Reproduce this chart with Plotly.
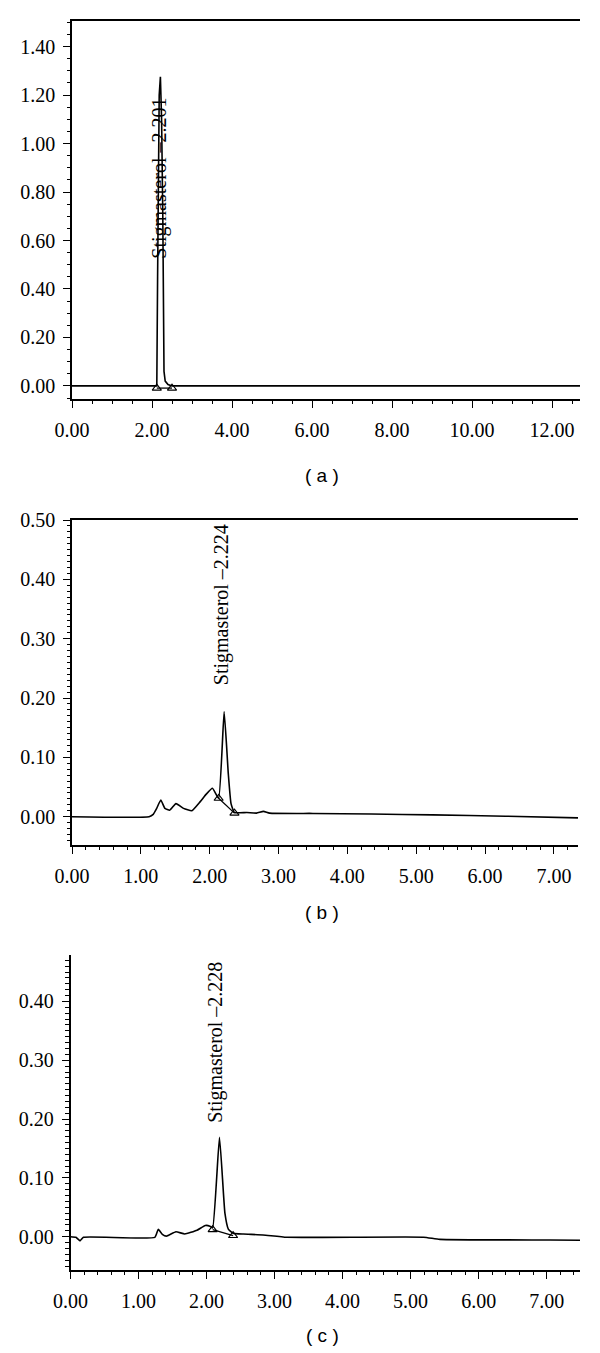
import plotly.graph_objects as go

# ---------------- data ----------------
# Panel (a)
a_time = [0, 2.12, 2.14, 2.16, 2.18, 2.21, 2.24, 2.27, 2.285, 2.30, 2.33, 2.40, 2.50, 12.7]
a_signal = [0, 0, 0.45, 0.95, 1.20, 1.276, 1.10, 0.70, 0.30, 0.06, 0.02, 0.006, 0.0, 0.0]
a_marks_t = [2.12, 2.50]
a_marks_v = [-0.009, -0.009]
a_label = "Stigmasterol –2.201"
a_label_pos = (2.18, 0.856)

# Panel (b)
b_time = [0, 1.12, 1.18, 1.23, 1.29, 1.35, 1.42, 1.51, 1.62, 1.74, 1.86, 1.95, 2.04,
          2.13, 2.21, 2.27, 2.31, 2.36, 2.54, 2.68, 2.78, 2.87, 3.50, 4.35, 5.24, 6.30, 7.35]
b_signal = [0, 0, 0.004, 0.014, 0.028, 0.014, 0.011, 0.022, 0.014, 0.010, 0.025, 0.038, 0.048,
            0.031, 0.177, 0.073, 0.022, 0.007, 0.007, 0.006, 0.009, 0.006, 0.0055, 0.0045, 0.003, 0.0008, -0.002]
b_marks_t = [2.13, 2.36]
b_marks_v = [0.031, 0.006]
b_label = "Stigmasterol –2.224"
b_label_pos = (2.17, 0.357)

# Panel (c)
c_time = [0, 0.08, 0.14, 0.19, 1.24, 1.29, 1.35, 1.41, 1.55, 1.68, 1.86, 1.98, 2.05,
          2.09, 2.19, 2.27, 2.32, 2.39, 2.54, 2.83, 3.18, 5.19, 5.43, 7.05, 7.49]
c_signal = [0, -0.001, -0.007, -0.001, -0.001, 0.0125, 0.004, 0.001, 0.0085, 0.0046, 0.011, 0.019, 0.018,
            0.015, 0.169, 0.040, 0.013, 0.006, 0.0045, 0.003, -0.001, -0.0008, -0.0045, -0.0056, -0.006]
c_marks_t = [2.09, 2.39]
c_marks_v = [0.012, 0.002]
c_label = "Stigmasterol –2.228"
c_label_pos = (2.12, 0.331)

captions = ["( a )", "( b )", "( c )"]

# ---------------- layout helpers ----------------
OFF = 8  # default page margin of the html body
W, H = 600 - OFF, 1353 - OFF


def px_x(p):
    return (p - OFF) / W


def px_y(p):
    return 1 - (p - OFF) / H


SERIF = "Liberation Serif"
TICKFONT = dict(family=SERIF, size=20, color="black")
LINE = dict(color="black", width=1.6, shape="spline", smoothing=0.4)

fig = go.Figure()

panels = [
    dict(t=a_time, v=a_signal, mt=a_marks_t, mv=a_marks_v, label=a_label, lpos=a_label_pos,
         xd=(72, 580), yd=(399, 20.7), xr=(0, 12.7), yr=(-0.054, 1.507),
         xdt=2, xmin=0.5, ydt=0.2, ymin=0.05, top=True, cap_y=475.7),
    dict(t=b_time, v=b_signal, mt=b_marks_t, mv=b_marks_v, label=b_label, lpos=b_label_pos,
         xd=(72, 578), yd=(845, 520), xr=(0, 7.35), yr=(-0.0477, 0.5),
         xdt=1, xmin=0.2, ydt=0.1, ymin=0.01, top=True, cap_y=912),
    dict(t=c_time, v=c_signal, mt=c_marks_t, mv=c_marks_v, label=c_label, lpos=c_label_pos,
         xd=(70.5, 580), yd=(1270, 955), xr=(0, 7.49), yr=(-0.0566, 0.479),
         xdt=1, xmin=0.2, ydt=0.1, ymin=0.01, top=False, cap_y=1335),
]

annotations = []
for i, p in enumerate(panels):
    n = "" if i == 0 else str(i + 1)
    xa, ya = "x" + n, "y" + n
    line = LINE if i > 0 else dict(color="black", width=1.6)
    fig.add_trace(go.Scatter(x=p["t"], y=p["v"], mode="lines", line=line,
                             xaxis=xa, yaxis=ya, showlegend=False, hoverinfo="skip"))
    # integration baseline between the two markers
    fig.add_trace(go.Scatter(x=p["mt"], y=p["mv"], mode="lines", line=dict(color="black", width=1.3),
                             xaxis=xa, yaxis=ya, showlegend=False, hoverinfo="skip"))
    fig.add_trace(go.Scatter(x=p["mt"], y=p["mv"], mode="markers",
                             marker=dict(symbol="triangle-up-open", size=8, color="black",
                                         line=dict(color="black", width=1.1)),
                             xaxis=xa, yaxis=ya, showlegend=False, hoverinfo="skip"))

    fig.layout["xaxis" + n] = dict(
        domain=[px_x(p["xd"][0]), px_x(p["xd"][1])], range=list(p["xr"]), anchor=ya,
        automargin=False,
        showline=True, linecolor="black", linewidth=1.5, mirror=p["top"],
        ticks="outside", ticklen=7, tickwidth=1.3, tickcolor="black",
        tick0=0, dtick=p["xdt"], tickformat=".2f", tickfont=TICKFONT,
        ticklabelstandoff=5,
        minor=dict(ticks="outside", ticklen=3.5, tickwidth=1.1, tickcolor="black",
                   dtick=p["xmin"], tick0=0, showgrid=False),
        showgrid=False, zeroline=False,
    )
    fig.layout["yaxis" + n] = dict(
        domain=[px_y(p["yd"][0]), px_y(p["yd"][1])], range=list(p["yr"]), anchor=xa,
        automargin=False,
        showline=True, linecolor="black", linewidth=1.5,
        ticks="outside", ticklen=7, tickwidth=1.3, tickcolor="black",
        tick0=0, dtick=p["ydt"], tickformat=".2f", tickfont=TICKFONT,
        ticklabelstandoff=4,
        minor=dict(ticks="outside", ticklen=3.5, tickwidth=1.1, tickcolor="black",
                   dtick=p["ymin"], tick0=0, showgrid=False),
        showgrid=False, zeroline=False,
    )
    annotations.append(dict(
        x=p["lpos"][0], y=p["lpos"][1], xref=xa, yref=ya, text=p["label"], textangle=-90,
        showarrow=False, xanchor="center", yanchor="middle",
        font=dict(family=SERIF, size=20, color="black"),
    ))
    annotations.append(dict(
        x=px_x(322), y=px_y(p["cap_y"]), xref="paper", yref="paper", text=captions[i],
        showarrow=False, xanchor="center", yanchor="middle",
        font=dict(family="Liberation Sans", size=19, color="black"),
    ))

fig.update_layout(
    width=W, height=H, margin=dict(l=0, r=0, t=0, b=0, autoexpand=False),
    paper_bgcolor="white", plot_bgcolor="white",
    font=dict(family=SERIF, color="black"),
    annotations=annotations, showlegend=False,
)

fig.write_html("out.html")
